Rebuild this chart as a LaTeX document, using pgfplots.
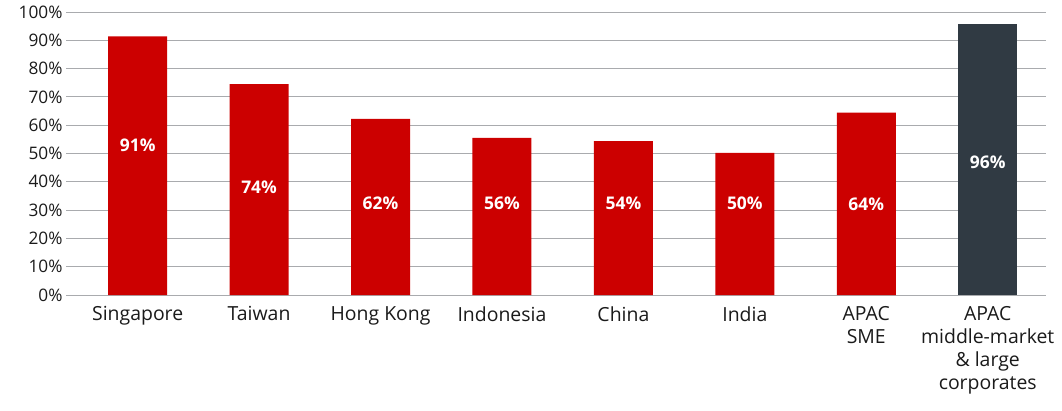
\documentclass[border=0pt]{standalone}
\usepackage{fontspec}
\setmainfont{Open Sans}
\usepackage{pgfplots}
\pgfplotsset{compat=1.18}
\definecolor{barred}{HTML}{CC0000}
\definecolor{bardark}{HTML}{303A43}
\definecolor{gridgray}{HTML}{A9ABAE}
\definecolor{txt}{HTML}{1A1A1A}

\begin{document}
\begin{tikzpicture}
\begin{axis}[
	scale only axis,
	width=980bp, height=283bp,
	xmin=-0.59, xmax=7.48,
	ymin=0, ymax=100,
	axis line style={draw=none},
	xtick={0,1,2,3,4,5,6,7},
	xticklabels={Singapore, Taiwan, Hong Kong, Indonesia, China, India, {APAC\\SME}, {APAC\\middle-market\\\& large\\corporates}},
	xticklabel style={align=center, font=\fontsize{19.5}{23}\selectfont, text=txt, yshift=-8bp},
	ytick={0,10,...,100},
	yticklabel={\pgfmathprintnumber{\tick}\%},
	yticklabel style={font=\fontsize{17.3}{20}\selectfont, text=txt},
	/pgf/number format/assume math mode=true,
	tick style={draw=none},
	ymajorgrids,
	grid style={draw=gridgray, line width=0.9pt},
	]

	% red bars
	\addplot[ybar, bar width=0.486, bar shift=0pt, fill=barred, draw=none] coordinates {
		(0,91.4) (1,74.5) (2,62.2) (3,55.5) (4,54.4) (5,50.2) (6,64.4)
	};
	% middle-market bar
	\addplot[ybar, bar width=0.486, bar shift=0pt, fill=bardark, draw=none] coordinates {
		(7,95.6)
	};

	% value labels inside the bars
	\addplot[draw=none, nodes near coords={\pgfplotspointmeta\%},
		point meta=explicit symbolic,
		nodes near coords style={anchor=center, text=white, font=\fontsize{17.5}{20}\selectfont\bfseries}]
		table[meta=lab] {
		x y lab
		0 53.0 91
		1 38.2 74
		2 32.5 62
		3 32.5 56
		4 32.5 54
		5 32.5 50
		6 32.0 64
		7 46.8 96
	};
\end{axis}
\pgfresetboundingbox
\path (-66bp,-116bp) rectangle (996bp,295bp);
\end{tikzpicture}
\end{document}
